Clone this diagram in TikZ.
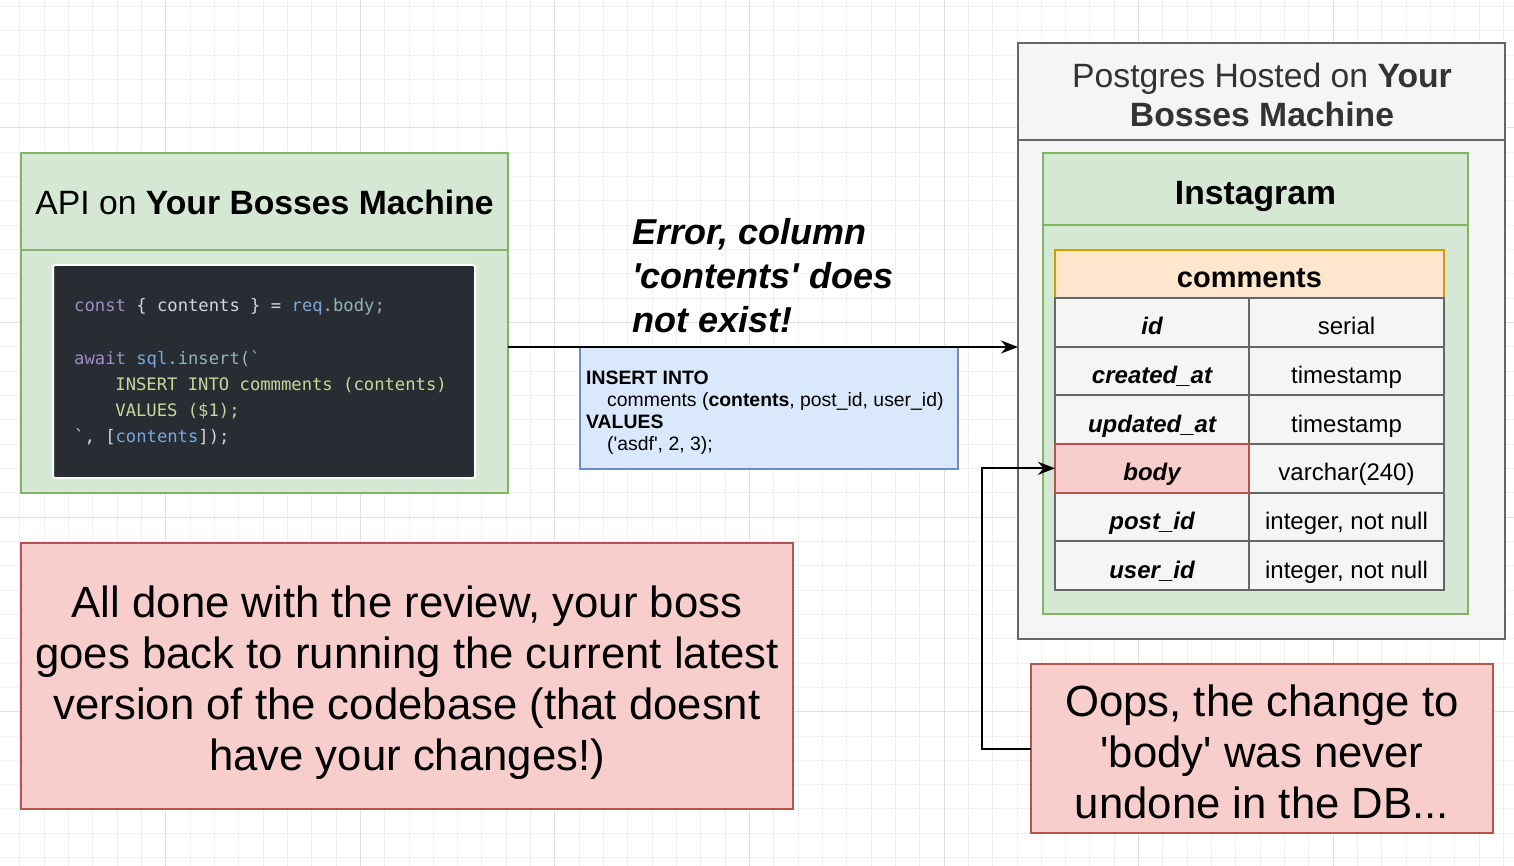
\documentclass[tikz,border=0pt]{standalone}
\usepackage{fontspec}
\setmainfont{Liberation Sans}
\setmonofont{DejaVu Sans Mono}
\newfontfamily\nolig{Liberation Sans}
\usetikzlibrary{arrows.meta,calc}
\definecolor{grn}{HTML}{D5E8D4}\definecolor{grnb}{HTML}{82B366}
\definecolor{gry}{HTML}{F5F5F5}\definecolor{gryb}{HTML}{666666}
\definecolor{org}{HTML}{FFE6CC}\definecolor{orgb}{HTML}{D79B00}
\definecolor{pnk}{HTML}{F8CECC}\definecolor{pnkb}{HTML}{B85450}
\definecolor{blu}{HTML}{DAE8FC}\definecolor{blub}{HTML}{6C8EBF}
\definecolor{codebg}{HTML}{282D34}
\definecolor{ckw}{HTML}{A08DC6}
\definecolor{cpl}{HTML}{D2D6DC}
\definecolor{cvar}{HTML}{7AA6DA}
\definecolor{cmem}{HTML}{93B4B0}
\definecolor{cstr}{HTML}{C8D699}
\definecolor{gmin}{HTML}{EFEFEF}
\definecolor{gmaj}{HTML}{E0E0E0}
\definecolor{ttl}{HTML}{333333}
\newcommand{\fs}[2]{\fontsize{#1}{#2}\selectfont}
\newcommand{\ap}{{\nolig'}}
\begin{document}
\begin{tikzpicture}[x=1pt,y=-1pt,
  rbox/.style={rectangle,inner sep=0pt,outer sep=0pt,line width=1.6pt},
  cell/.style={rbox,fill=gry,draw=gryb,line width=2pt,minimum height=48.67pt,text=black,text height=25pt,text depth=0pt},
  lcell/.style={cell,minimum width=194pt,font=\fs{24}{28}\bfseries\itshape},
  rcell/.style={cell,minimum width=195pt,font=\fs{24}{28}},
  codeline/.style={anchor=base west,inner sep=0pt,font=\ttfamily\fs{17.2}{26}},
  sqlline/.style={anchor=base west,inner sep=0pt,font=\fs{19.4}{22}},
  errline/.style={anchor=base west,inner sep=0pt,font=\fs{36}{44}\bfseries\itshape},
  notetext/.style={inner sep=0pt,align=center,font=\fs{43.7}{51}},
  conn/.style={line width=2pt,black},
  tip/.style={-{Stealth[length=17pt,width=13pt]}}
]
\useasboundingbox (0,0) rectangle (1514,866);
\fill[white] (0,0) rectangle (1514,866);
% grid
\foreach \i in {-1,...,62} {\draw[gmin,line width=1pt] ({19.9+24.32*\i},0) -- ({19.9+24.32*\i},866);}
\foreach \j in {-1,...,36} {\draw[gmin,line width=1pt] (0,{6.4+24.32*\j}) -- (1514,{6.4+24.32*\j});}
\foreach \i in {0,...,7} {\draw[gmaj,line width=1pt] ({165.8+194.56*\i},0) -- ({165.8+194.56*\i},866);}
\foreach \j in {0,...,3} {\draw[gmaj,line width=1pt] (0,{128+194.56*\j}) -- (1514,{128+194.56*\j});}

% API box
\node[rbox,fill=grn,draw=grnb,minimum width=487pt,minimum height=97pt,text height=27pt,text depth=0pt,font=\fs{33.7}{40}] (apihead) at (264.5,201.5) {API on \textbf{Your Bosses Machine}};
\node[rbox,fill=grn,draw=grnb,minimum width=487pt,minimum height=243pt] (apibody) at (264.5,371.5) {};
\node[rbox,fill=codebg,draw=white,line width=2pt,rounded corners=2pt,minimum width=422pt,minimum height=213pt] (code) at (264,371.5) {};
\node[codeline] (c1) at (74,312) {\textcolor{ckw}{const} \textcolor{cpl}{\{ contents \} =} \textcolor{cvar}{req}\textcolor{cmem}{.body;}};
\node[codeline] (c2) at (74,364) {\textcolor{ckw}{await} \textcolor{cvar}{sql}\textcolor{cmem}{.insert(\symbol{96}}};
\node[codeline] (c3) at (115.2,390) {\textcolor{cstr}{INSERT INTO commments (contents)}};
\node[codeline] (c4) at (115.2,416) {\textcolor{cstr}{VALUES (\$1);}};
\node[codeline] (c5) at (74,442) {\textcolor{cpl}{\symbol{96}, [}\textcolor{cvar}{contents}\textcolor{cpl}{]);}};

% Postgres box
\node[rbox,fill=gry,draw=gryb,line width=2pt,minimum width=487pt,minimum height=596pt] (pg) at (1261.5,341) {};
\draw[gryb,line width=2pt] (pg.west |- 0,140) -- (pg.east |- 0,140);
\node[anchor=base,inner sep=0pt,text=ttl,font=\fs{33.7}{39}] (pgt1) at (1262,88) {Postgres Hosted on \textbf{Your}};
\node[anchor=base,inner sep=0pt,text=ttl,font=\fs{33.7}{39}\bfseries] (pgt2) at (1262,127) {Bosses Machine};

% Instagram box
\node[rbox,fill=grn,draw=grnb,minimum width=425pt,minimum height=461pt] (insta) at (1255.5,383.5) {};
\draw[grnb,line width=1.6pt] (insta.west |- 0,225) -- (insta.east |- 0,225);
\node[anchor=base,inner sep=0pt,font=\fs{33.7}{40}\bfseries] (instat) at (1255.5,205) {Instagram};

% comments table
\node[rbox,fill=org,draw=orgb,line width=2pt,minimum width=389pt,minimum height=48pt,text height=28pt,text depth=0pt,font=\fs{29}{34}\bfseries] (cmt) at (1249.5,274) {comments};
\node[lcell] (l1) at (1152,322.3) {id};
\node[rcell] (r1) at (1346.5,322.3) {serial};
\node[lcell] (l2) at (1152,371) {created\_at};
\node[rcell] (r2) at (1346.5,371) {timestamp};
\node[lcell] (l3) at (1152,419.7) {updated\_at};
\node[rcell] (r3) at (1346.5,419.7) {timestamp};
\node[rcell] (r4) at (1346.5,468.3) {varchar(240)};
\node[lcell] (l5) at (1152,517) {post\_id};
\node[rcell] (r5) at (1346.5,517) {integer, not null};
\node[lcell] (l6) at (1152,565.7) {user\_id};
\node[rcell] (r6) at (1346.5,565.7) {integer, not null};
\node[lcell,fill=pnk,draw=pnkb] (bodycell) at (1152,468.3) {body};

% SQL box
\node[rbox,fill=blu,draw=blub,line width=2pt,minimum width=378pt,minimum height=122pt] (sql) at (769,408) {};
\node[sqlline] (s1) at (586,384) {\textbf{INSERT INTO}};
\node[sqlline] (s2) at (607,406) {comments (\textbf{contents}, post\_id, user\_id)};
\node[sqlline] (s3) at (586,428) {\textbf{VALUES}};
\node[sqlline] (s4) at (607,450) {(\ap asdf\ap, 2, 3);};

% error text
\node[errline] (e1) at (632,245) {Error, column};
\node[errline] (e2) at (632,289) {\ap contents\ap{} does};
\node[errline] (e3) at (632,333) {not exist!};

% pink notes
\node[rbox,fill=pnk,draw=pnkb,minimum width=772pt,minimum height=266pt] (done) at (407,676) {};
\node[notetext] (donetext) at ([yshift=-7pt]done.center) {All done with the review, your boss\\goes back to running the current latest\\version of the codebase (that doesnt\\have your changes!)};
\node[rbox,fill=pnk,draw=pnkb,minimum width=462pt,minimum height=169pt] (oops) at (1262,748.5) {};
\node[notetext] (oopstext) at ([yshift=-3pt]oops.center) {Oops, the change to\\\ap body\ap{} was never\\undone in the DB...};

% connectors
\coordinate (a1) at ([yshift=24.5pt]apibody.east);
\draw[conn,tip] (a1) -- (pg.west |- a1);
\draw[conn,tip] (oops.west) -- ++(-49,0) |- (bodycell.west);
\end{tikzpicture}
\end{document}
